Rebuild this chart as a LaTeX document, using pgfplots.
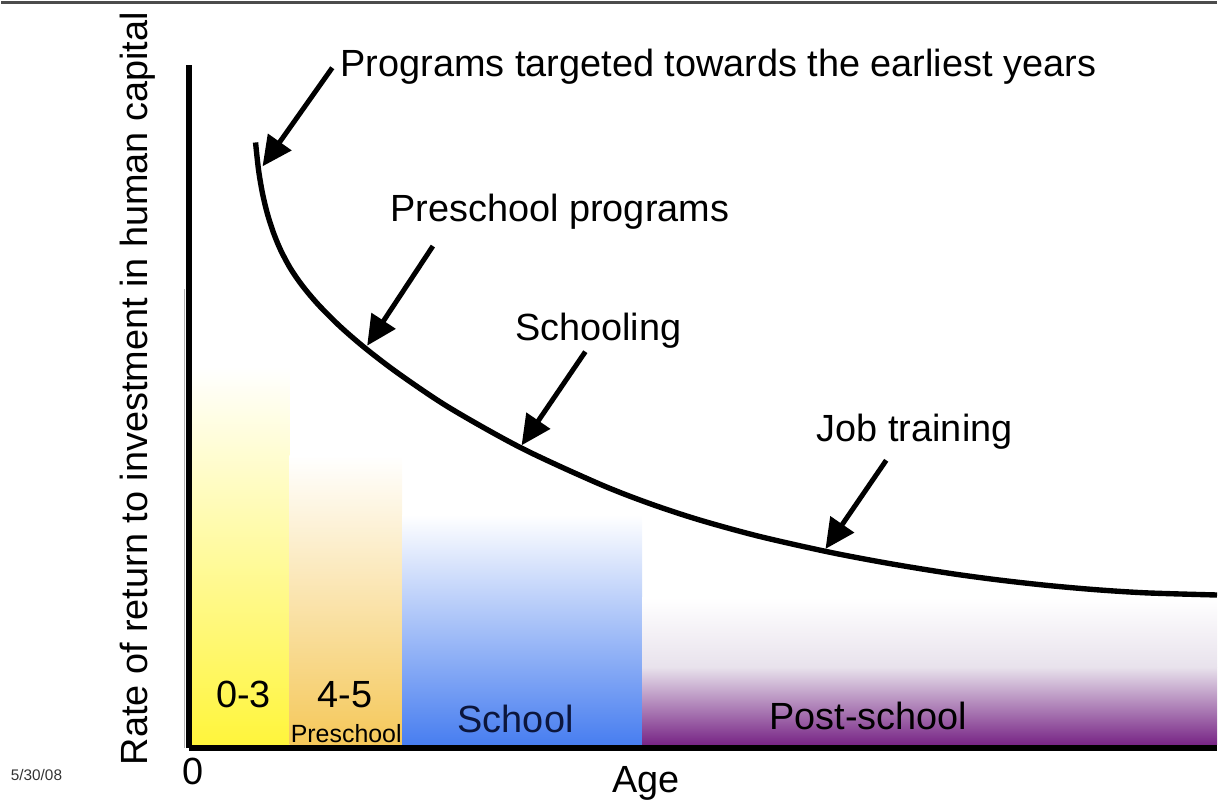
\documentclass[border=0pt]{standalone}
\usepackage{fontspec}
\setmainfont{Liberation Sans}
\usepackage{pgfplots}
\pgfplotsset{compat=1.18}
\usetikzlibrary{arrows.meta}

\definecolor{yelB}{RGB}{255,245,60}
\definecolor{orgB}{RGB}{245,200,90}
\definecolor{bluM}{RGB}{182,196,250}
\definecolor{bluB}{RGB}{72,126,240}
\definecolor{purT}{RGB}{232,226,236}
\definecolor{purM}{RGB}{168,130,178}
\definecolor{purB}{RGB}{120,38,134}
\definecolor{navy}{RGB}{12,22,60}

\newcommand\bigfont{\fontsize{19bp}{22bp}\selectfont}
\newcommand\smallfont{\fontsize{12.5bp}{14bp}\selectfont}
\newcommand\tinyfont{\fontsize{7.7bp}{9bp}\selectfont}

\begin{document}
\begin{tikzpicture}
\begin{axis}[
  scale only axis, width=516bp, height=343bp,
  xmin=188, xmax=1220, ymin=52, ymax=738,
  axis lines=left, axis on top,
  axis line style={-, line width=3bp, black},
  xtick=\empty, ytick=\empty,
  clip=false, no markers,
  xlabel={Age},
  ylabel={Rate of return to investment in human capital},
  xlabel style={at={(axis description cs:0.4448,-0.0641)}, anchor=base, font=\bigfont, inner sep=0pt},
  ylabel style={at={(axis description cs:-0.0397,0.5262)}, anchor=base, font=\bigfont, inner sep=0pt},
]
% bounding box of the whole picture
\path (axis cs:0,0) rectangle (axis cs:1220,803);
% top border line
\draw[line width=1.5bp, black!70] (axis cs:0,800) -- (axis cs:1220,800);

% bars (shaded)
\addplot[draw=none, shading=axis, top color=white, bottom color=yelB]
  coordinates {(190,56) (190,435) (289,435) (289,56)} -- cycle;
\addplot[draw=none, shading=axis, top color=white, bottom color=orgB]
  coordinates {(289,56) (289,346) (402,346) (402,56)} -- cycle;
\addplot[draw=none, shading=axis, top color=white, middle color=bluM, bottom color=bluB]
  coordinates {(402,56) (402,286) (643,286) (643,56)} -- cycle;
\addplot[draw=none, shading=axis, top color=white, bottom color=purT]
  coordinates {(643,133) (643,203) (1220,203) (1220,133)} -- cycle;
\addplot[draw=none, shading=axis, top color=purT, middle color=purM, bottom color=purB]
  coordinates {(643,56) (643,133.5) (1220,133.5) (1220,56)} -- cycle;

% faint grey edge left of the y axis
\draw[line width=0.8bp, black!30] (axis cs:183.5,52) -- (axis cs:183.5,513);

% the curve
\addplot[smooth, line width=2.7bp, black] coordinates {
 (255,660) (258,632.4) (262,608.8) (267,588) (273,569.4) (280,552.4)
 (290,533.6) (302,516.2) (318,497.2) (340,475.2) (366,452.8) (400,427)
 (450,393.5) (522,353.2) (600,317.3) (650,297.8) (700,281.3) (760,264.8)
 (830,249) (890,237.6) (950,227.8) (1000,221) (1050,215.4) (1100,211)
 (1150,207.9) (1220,205.8)};

% arrows
\draw[line width=2.5bp, -{Triangle[length=15bp,width=14bp]}] (axis cs:332,735) -- (axis cs:262,636);
\draw[line width=2.5bp, -{Triangle[length=15bp,width=14bp]}] (axis cs:433,556) -- (axis cs:367,456);
\draw[line width=2.5bp, -{Triangle[length=15bp,width=14bp]}] (axis cs:586,450) -- (axis cs:522,356);
\draw[line width=2.5bp, -{Triangle[length=15bp,width=14bp]}] (axis cs:888,341) -- (axis cs:827,252);

% annotations
\node[anchor=base west, inner sep=0pt, font=\bigfont] at (axis cs:340,726) {Programs targeted towards the earliest years};
\node[anchor=base west, inner sep=0pt, font=\bigfont] at (axis cs:390,581) {Preschool programs};
\node[anchor=base west, inner sep=0pt, font=\bigfont] at (axis cs:515,461) {Schooling};
\node[anchor=base west, inner sep=0pt, font=\bigfont] at (axis cs:818,360) {Job training};

% bar labels
\node[anchor=base, inner sep=0pt, font=\bigfont] at (axis cs:243,93) {0-3};
\node[anchor=base, inner sep=0pt, font=\bigfont] at (axis cs:345,93) {4-5};
\node[anchor=base, inner sep=0pt, font=\smallfont] at (axis cs:346,58) {Preschool};
\node[anchor=base, inner sep=0pt, font=\bigfont, text=navy] at (axis cs:516,68) {School};
\node[anchor=base, inner sep=0pt, font=\bigfont] at (axis cs:870,71) {Post-school};

% origin and date
\node[anchor=base, inner sep=0pt, font=\bigfont] at (axis cs:192,16) {0};
\node[anchor=base west, inner sep=0pt, font=\tinyfont, text=black!80] at (axis cs:9,20) {5/30/08};
\end{axis}
\end{tikzpicture}
\end{document}
